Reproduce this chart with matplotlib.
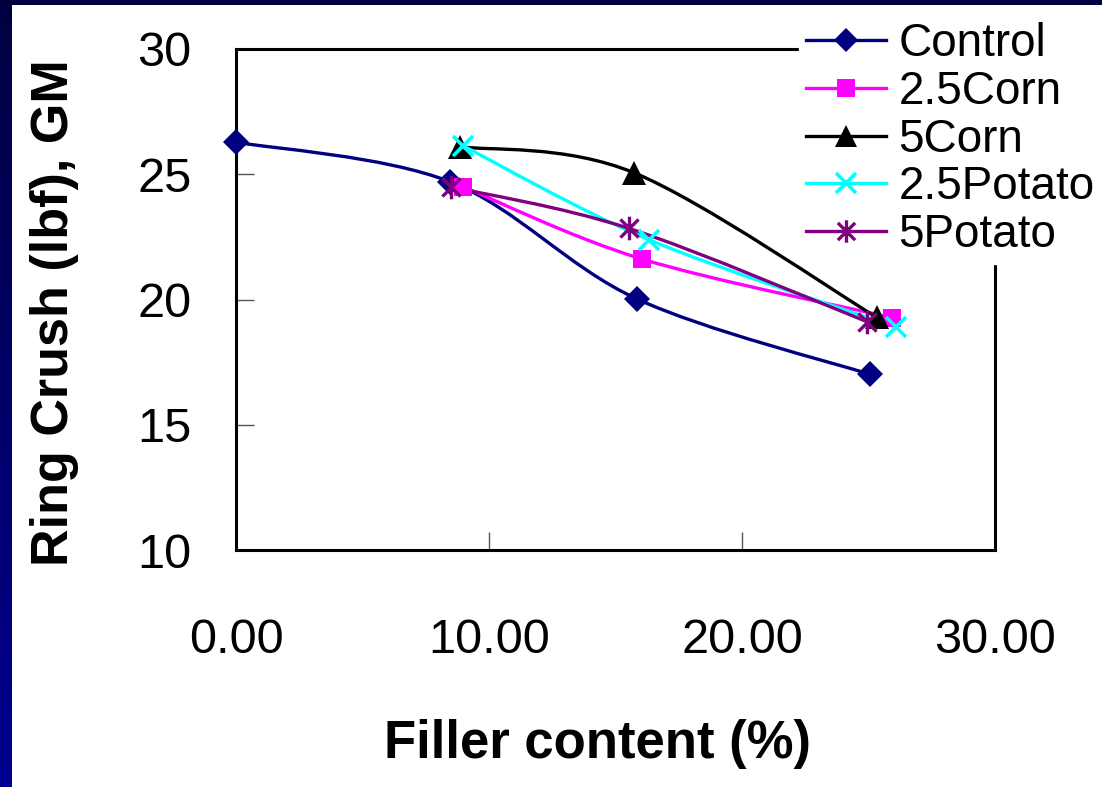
import numpy as np
import matplotlib
matplotlib.use("Agg")
import matplotlib.pyplot as plt
from matplotlib.path import Path
from matplotlib.patches import PathPatch
from matplotlib.lines import Line2D
from matplotlib.colors import LinearSegmentedColormap

plt.rcParams['font.family'] = ['Liberation Sans', 'DejaVu Sans']

# ---- data ----
series_names = ["Control", "2.5Corn", "5Corn", "2.5Potato", "5Potato"]
control_x = [0.0, 8.46, 15.85, 25.06]
control_y = [26.28, 24.70, 20.02, 17.01]
corn25_x = [8.98, 16.03, 25.94]
corn25_y = [24.50, 21.62, 19.27]
corn5_x = [8.85, 15.73, 25.32]
corn5_y = [26.10, 25.06, 19.29]
potato25_x = [8.98, 16.34, 26.09]
potato25_y = [26.13, 22.38, 18.89]
potato5_x = [8.48, 15.53, 24.95]
potato5_y = [24.50, 22.84, 19.11]

x_ticks = [0, 10, 20, 30]
x_ticklabels = ["0.00", "10.00", "20.00", "30.00"]
y_ticks = [10, 15, 20, 25, 30]
y_ticklabels = ["10", "15", "20", "25", "30"]
x_label = "Filler content (%)"
y_label = "Ring Crush (lbf), GM"

# ---- styles ----
star = Path([(-1, -1), (1, 1), (-1, 1), (1, -1), (0, -1.3), (0, 1.3)],
            [Path.MOVETO, Path.LINETO, Path.MOVETO, Path.LINETO, Path.MOVETO, Path.LINETO])
styles = [
    dict(color="#000080", marker="D", ms=13, mew=0),
    dict(color="#FF00FF", marker="s", ms=13.5, mew=0),
    dict(color="#000000", marker="^", ms=17, mew=0),
    dict(color="#00FFFF", marker="x", ms=14.5, mew=2.6),
    dict(color="#800080", marker=star, ms=17, mew=2.4),
]
data = [(control_x, control_y), (corn25_x, corn25_y), (corn5_x, corn5_y),
        (potato25_x, potato25_y), (potato5_x, potato5_y)]


def smooth_path(xs, ys):
    pts = np.column_stack([xs, ys]).astype(float)
    n = len(pts)
    verts = [pts[0]]
    codes = [Path.MOVETO]
    for i in range(n - 1):
        p0 = pts[i - 1] if i > 0 else pts[i]
        p1 = pts[i]
        p2 = pts[i + 1]
        p3 = pts[i + 2] if i + 2 < n else pts[i + 1]
        c1 = p1 + (p2 - p0) / 6.0
        c2 = p2 - (p3 - p1) / 6.0
        verts += [c1, c2, p2]
        codes += [Path.CURVE4] * 3
    return Path(verts, codes)


W, H = 1102, 787
fig = plt.figure(figsize=(W / 100, H / 100), dpi=100)
fig.patch.set_facecolor("white")

# dark blue slide border (left and top)
grad = np.linspace(0, 1, 256).reshape(-1, 1)
bax = fig.add_axes([0, 0, 12 / W, 1])
cmap = LinearSegmentedColormap.from_list("b", ["#000040", "#000090"])
bax.imshow(grad, aspect="auto", cmap=cmap, extent=[0, 1, 0, 1])
bax.set_axis_off()
tax = fig.add_axes([0, 1 - 5 / H, 1, 5 / H])
tax.set_facecolor("#000040")
tax.set_xticks([]); tax.set_yticks([])
for s in tax.spines.values():
    s.set_visible(False)

ax = fig.add_axes([236 / W, 1 - 550 / H, (995 - 236) / W, (550 - 49) / H])
ax.set_xlim(0, 30)
ax.set_ylim(10, 30)

handles = []
for name, (xs, ys), st in zip(series_names, data, styles):
    patch = PathPatch(smooth_path(xs, ys), fill=False, edgecolor=st["color"],
                      lw=2.4, transform=ax.transData, zorder=3, clip_on=False)
    ax.add_patch(patch)
    ax.plot(xs, ys, ls="none", marker=st["marker"], ms=st["ms"],
            color=st["color"], mec=st["color"], mew=st["mew"], zorder=4, clip_on=False)
    handles.append(Line2D([], [], color=st["color"], lw=2.4, marker=st["marker"],
                          ms=st["ms"] * 0.95, mec=st["color"], mew=st["mew"], label=name))

ax.set_xticks(x_ticks)
ax.set_xticklabels(x_ticklabels)
ax.set_yticks(y_ticks)
ax.set_yticklabels(y_ticklabels)
ax.tick_params(axis="both", direction="in", length=13, width=1.0, color="#555555",
               labelsize=35, labelcolor="black")
ax.tick_params(axis="x", pad=49)
ax.tick_params(axis="y", pad=32)
for s in ax.spines.values():
    s.set_linewidth(2.2)
    s.set_color("black")

fig.text(55 / W, 1 - 313 / H, y_label, rotation=90, ha="center", va="center",
         fontsize=37.5, fontweight="bold")
fig.text(598 / W, 1 - 744 / H, x_label, ha="center", va="center",
         fontsize=38, fontweight="bold")

leg = ax.legend(handles=handles, loc="upper left",
                bbox_to_anchor=(799 / W, 1 - 15.5 / H), bbox_transform=fig.transFigure,
                fontsize=33, frameon=True, facecolor="white", edgecolor="white",
                framealpha=1, fancybox=False, handlelength=1.75, handletextpad=0.27,
                labelspacing=0.08, borderpad=0.15, borderaxespad=0)
leg.set_zorder(2.8)

fig.savefig("out.png", dpi=100, facecolor="white")
